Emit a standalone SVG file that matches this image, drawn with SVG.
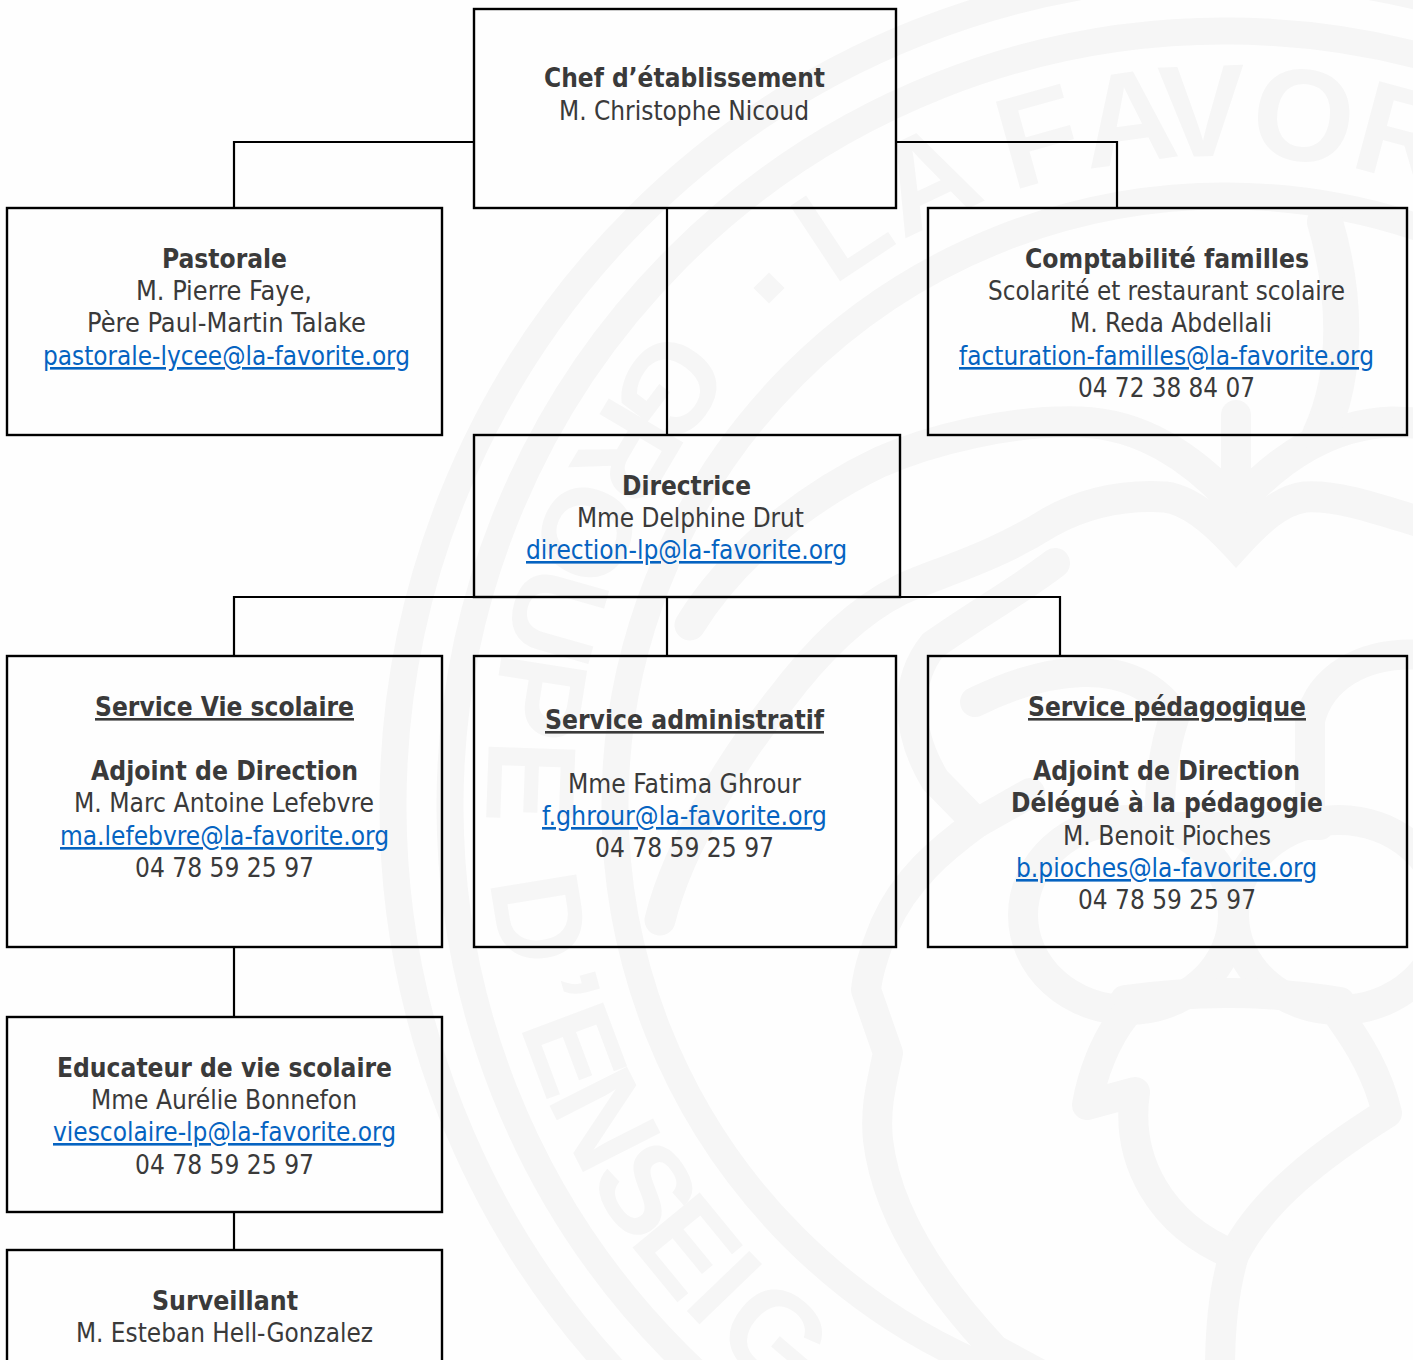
<svg xmlns="http://www.w3.org/2000/svg" width="1413" height="1360" viewBox="0 0 1413 1360">
<style>
.wm{fill:none;stroke:#f6f6f6;stroke-linejoin:round;stroke-linecap:round}
.wj{stroke-linejoin:miter;stroke-miterlimit:8}
.wt{fill:#f6f6f6;font-family:"Liberation Sans",Arial,sans-serif;font-weight:700;text-anchor:middle}
.a{font-size:131px}
.e{font-size:126px}
.box{fill:none;stroke:#000;stroke-width:2.4}
.con{fill:none;stroke:#000;stroke-width:2.2}
text.t{font-family:"DejaVu Sans Condensed","DejaVu Sans",sans-serif;font-size:26px;fill:#3a3a3a}
text.b{font-weight:700}
text.u{text-decoration:underline}
text.l{fill:#0563c1;text-decoration:underline}
</style>
<rect width="1413" height="1360" fill="#fefefe"/>
<g id="watermark">
<circle class="wm" cx="1225" cy="806" r="832" stroke-width="27"/>
<circle class="wm" cx="1225" cy="806" r="775" stroke-width="27"/>
<circle class="wm" cx="1225" cy="806" r="610" stroke-width="27"/>
<g class="wt a">
<text x="1225" y="156" transform="rotate(-33.5 1225 806)">L</text>
<text x="1225" y="156" transform="rotate(-25.5 1225 806)">A</text>
<text x="1225" y="156" transform="rotate(-15.6 1225 806)">F</text>
<text x="1225" y="156" transform="rotate(-8 1225 806)">A</text>
<text x="1225" y="156" transform="rotate(-1.9 1225 806)">V</text>
<text x="1225" y="156" transform="rotate(6.5 1225 806)">O</text>
<text x="1225" y="156" transform="rotate(15 1225 806)">R</text>
</g>
<g class="wt e">
<text x="1225" y="1544" transform="rotate(127 1225 806)">G</text>
<text x="1225" y="1544" transform="rotate(120.6 1225 806)">R</text>
<text x="1225" y="1544" transform="rotate(113.2 1225 806)">O</text>
<text x="1225" y="1544" transform="rotate(105.9 1225 806)">U</text>
<text x="1225" y="1544" transform="rotate(99 1225 806)">P</text>
<text x="1225" y="1544" transform="rotate(92 1225 806)">E</text>
<text x="1225" y="1544" transform="rotate(80.7 1225 806)">D</text>
<text x="1225" y="1544" transform="rotate(74.5 1225 806)">’</text>
<text x="1225" y="1544" transform="rotate(69.5 1225 806)">E</text>
<text x="1225" y="1544" transform="rotate(63.2 1225 806)">N</text>
<text x="1225" y="1544" transform="rotate(56.5 1225 806)">S</text>
<text x="1225" y="1544" transform="rotate(50.7 1225 806)">E</text>
<text x="1225" y="1544" transform="rotate(46.1 1225 806)">I</text>
<text x="1225" y="1544" transform="rotate(40.3 1225 806)">G</text>
</g>
<rect x="758" y="277" width="22" height="22" fill="#f6f6f6" transform="rotate(45 769 288)"/>
<path class="wm wj" stroke-width="31" d="M690 625C730 560 800 500 880 462C930 440 1010 420 1080 422C1140 424 1190 455 1236 505C1282 455 1332 424 1392 422L1440 424"/>
<path class="wm" stroke-width="30" d="M1236 415V505"/>
<path class="wm" stroke-width="36" d="M1325 222C1345 290 1350 370 1320 435"/>
<path class="wm wj" stroke-width="31" d="M660 920C680 840 740 750 780 700C810 660 850 615 900 590C930 575 990 560 1050 522C1090 500 1130 495 1165 497C1190 500 1215 522 1236 545C1257 522 1280 500 1305 497C1340 495 1380 510 1430 525"/>
<path class="wm wj" stroke-width="30" d="M1055 563C1020 590 975 615 933 645C905 680 905 730 935 780L977 823L1030 793"/>
<path class="wm" stroke-width="30" d="M977 823C940 850 905 880 885 925C875 950 868 970 866 990L888 1053C880 1090 875 1110 878 1140C885 1200 920 1270 995 1350L1060 1385"/>
<path class="wm" stroke-width="30" d="M975 702C1040 670 1130 650 1175 715C1165 745 1160 775 1160 810"/>
<path class="wm" stroke-width="30" d="M1425 655C1360 650 1320 680 1310 720V815"/>
<path class="wm" stroke-width="28" d="M1150 826H1320"/>
<ellipse class="wm" cx="1128" cy="915" rx="105" ry="95" stroke-width="30"/>
<ellipse class="wm" cx="1339" cy="915" rx="105" ry="95" stroke-width="30"/>
<path class="wm" stroke-width="30" d="M1125 1000Q1235 985 1340 1002"/>
<path class="wm" stroke-width="30" d="M1125 1015C1105 1040 1092 1075 1087 1105L1135 1092C1125 1160 1160 1225 1234 1255C1262 1200 1320 1155 1387 1113C1378 1075 1360 1045 1340 1017"/>
<path class="wm" stroke-width="30" d="M1234 1255C1225 1285 1220 1320 1220 1370"/>
</g>
<g id="connectors">
<path class="con" d="M474 142H234V208"/>
<path class="con" d="M896 142H1117V208"/>
<path class="con" d="M667 208V435"/>
<path class="con" d="M234 656V597H1060V656"/>
<path class="con" d="M667 597V656"/>
<path class="con" d="M234 947V1017"/>
<path class="con" d="M234 1212V1250"/>
</g>
<g id="node-chef"><rect class="box" x="474" y="9" width="422" height="199"/>
<text class="t b" x="544" y="87" textLength="281" lengthAdjust="spacingAndGlyphs">Chef d’établissement</text>
<text class="t" x="559" y="120" textLength="250" lengthAdjust="spacingAndGlyphs">M. Christophe Nicoud</text></g>
<g id="node-pastorale"><rect class="box" x="7" y="208" width="435" height="227"/>
<text class="t b" x="162" y="268" textLength="125" lengthAdjust="spacingAndGlyphs">Pastorale</text>
<text class="t" x="136" y="300" textLength="176" lengthAdjust="spacingAndGlyphs">M. Pierre Faye,</text>
<text class="t" x="87" y="332" textLength="279" lengthAdjust="spacingAndGlyphs">Père Paul-Martin Talake</text>
<text class="t l" x="43" y="365" textLength="367" lengthAdjust="spacingAndGlyphs">pastorale-lycee@la-favorite.org</text></g>
<g id="node-comptabilite"><rect class="box" x="928" y="208" width="479" height="227"/>
<text class="t b" x="1025" y="268" textLength="284" lengthAdjust="spacingAndGlyphs">Comptabilité familles</text>
<text class="t" x="988" y="300" textLength="357" lengthAdjust="spacingAndGlyphs">Scolarité et restaurant scolaire</text>
<text class="t" x="1070" y="332" textLength="202" lengthAdjust="spacingAndGlyphs">M. Reda Abdellali</text>
<text class="t l" x="959" y="365" textLength="415" lengthAdjust="spacingAndGlyphs">facturation-familles@la-favorite.org</text>
<text class="t" x="1078" y="397" textLength="177" lengthAdjust="spacingAndGlyphs">04 72 38 84 07</text></g>
<g id="node-directrice"><rect class="box" x="474" y="435" width="426" height="162"/>
<text class="t b" x="622" y="495" textLength="129" lengthAdjust="spacingAndGlyphs">Directrice</text>
<text class="t" x="577" y="527" textLength="227" lengthAdjust="spacingAndGlyphs">Mme Delphine Drut</text>
<text class="t l" x="526" y="559" textLength="321" lengthAdjust="spacingAndGlyphs">direction-lp@la-favorite.org</text></g>
<g id="node-vie-scolaire"><rect class="box" x="7" y="656" width="435" height="291"/>
<text class="t b u" x="95" y="716" textLength="259" lengthAdjust="spacingAndGlyphs">Service Vie scolaire</text>
<text class="t b" x="91" y="780" textLength="267" lengthAdjust="spacingAndGlyphs">Adjoint de Direction</text>
<text class="t" x="74" y="812" textLength="300" lengthAdjust="spacingAndGlyphs">M. Marc Antoine Lefebvre</text>
<text class="t l" x="60" y="845" textLength="329" lengthAdjust="spacingAndGlyphs">ma.lefebvre@la-favorite.org</text>
<text class="t" x="135" y="877" textLength="179" lengthAdjust="spacingAndGlyphs">04 78 59 25 97</text></g>
<g id="node-administratif"><rect class="box" x="474" y="656" width="422" height="291"/>
<text class="t b u" x="545" y="729" textLength="279" lengthAdjust="spacingAndGlyphs">Service administratif</text>
<text class="t" x="568" y="793" textLength="233" lengthAdjust="spacingAndGlyphs">Mme Fatima Ghrour</text>
<text class="t l" x="542" y="825" textLength="285" lengthAdjust="spacingAndGlyphs">f.ghrour@la-favorite.org</text>
<text class="t" x="595" y="857" textLength="179" lengthAdjust="spacingAndGlyphs">04 78 59 25 97</text></g>
<g id="node-pedagogique"><rect class="box" x="928" y="656" width="479" height="291"/>
<text class="t b u" x="1028" y="716" textLength="278" lengthAdjust="spacingAndGlyphs">Service pédagogique</text>
<text class="t b" x="1033" y="780" textLength="267" lengthAdjust="spacingAndGlyphs">Adjoint de Direction</text>
<text class="t b" x="1011" y="812" textLength="312" lengthAdjust="spacingAndGlyphs">Délégué à la pédagogie</text>
<text class="t" x="1063" y="845" textLength="208" lengthAdjust="spacingAndGlyphs">M. Benoit Pioches</text>
<text class="t l" x="1016" y="877" textLength="301" lengthAdjust="spacingAndGlyphs">b.pioches@la-favorite.org</text>
<text class="t" x="1078" y="909" textLength="178" lengthAdjust="spacingAndGlyphs">04 78 59 25 97</text></g>
<g id="node-educateur"><rect class="box" x="7" y="1017" width="435" height="195"/>
<text class="t b" x="57" y="1077" textLength="335" lengthAdjust="spacingAndGlyphs">Educateur de vie scolaire</text>
<text class="t" x="91" y="1109" textLength="266" lengthAdjust="spacingAndGlyphs">Mme Aurélie Bonnefon</text>
<text class="t l" x="53" y="1141" textLength="343" lengthAdjust="spacingAndGlyphs">viescolaire-lp@la-favorite.org</text>
<text class="t" x="135" y="1174" textLength="179" lengthAdjust="spacingAndGlyphs">04 78 59 25 97</text></g>
<g id="node-surveillant"><rect class="box" x="7" y="1250" width="435" height="130"/>
<text class="t b" x="152" y="1310" textLength="146" lengthAdjust="spacingAndGlyphs">Surveillant</text>
<text class="t" x="76" y="1342" textLength="297" lengthAdjust="spacingAndGlyphs">M. Esteban Hell-Gonzalez</text></g>
</svg>
